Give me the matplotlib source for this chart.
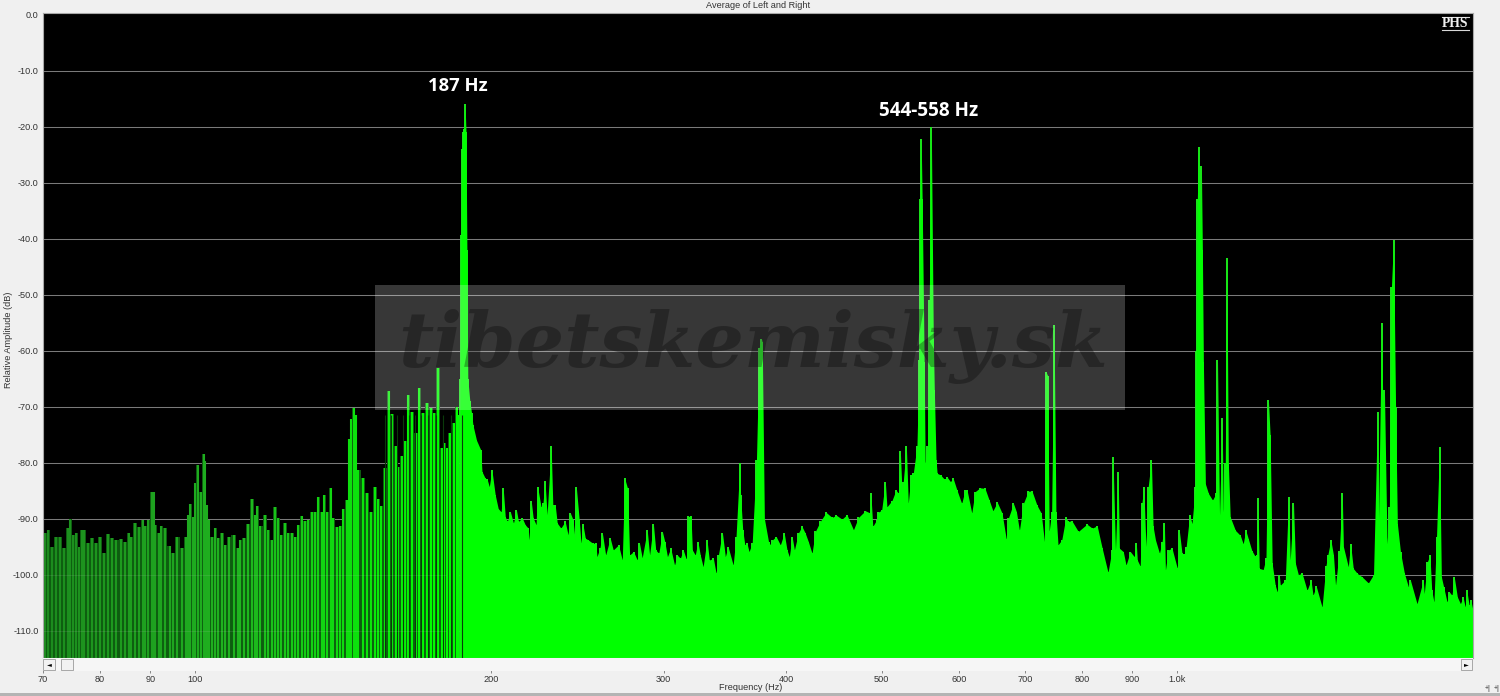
#coding=utf-8
import numpy as np
from matplotlib import pyplot as plt
from matplotlib.colors import LinearSegmentedColormap
from matplotlib.lines import Line2D
from matplotlib.patches import Rectangle

# separate FFT bars below the main peak
low_freq = [70.3, 70.9, 71.5, 72.2, 72.9, 73.6, 74.2, 74.6, 75.1, 75.7, 76.1, 76.7, 77.1, 77.8, 78.5, 79.3,
            80.0, 80.7, 81.6, 82.3, 83.1, 84.1, 84.9, 85.6, 86.1, 86.8, 87.6, 88.4, 88.9, 89.6, 90.3, 90.7,
            91.1, 91.8, 92.3, 93.2, 94.2, 94.9, 95.9, 96.9, 97.8, 98.4, 98.9, 99.5, 100.0, 100.6, 101.3, 102.0,
            102.4, 102.8, 103.3, 104.0, 104.8, 105.6, 106.5, 107.3, 108.2, 109.5, 110.5, 111.2, 112.2, 113.3,
            114.3, 115.1, 115.6, 116.5, 117.9, 118.7, 119.7, 120.6, 121.5, 122.3, 123.5, 124.4, 125.6, 126.4,
            127.4, 128.4, 129.4, 130.3, 131.6, 132.5, 133.5, 134.7, 135.3, 136.2, 137.6, 138.2, 139.6, 140.5,
            141.5, 142.8, 143.4, 144.0, 145.2, 145.9, 146.6, 148.2, 149.6, 151.0, 152.5, 153.6, 154.7, 156.1,
            157.4, 158.7, 160.1, 160.9, 162.5, 163.5, 164.8, 166.4, 167.9, 169.1, 170.7, 172.2, 174.0, 175.2,
            176.7, 178.4, 179.3, 180.4, 181.8, 183.5, 184.6, 185.1]
low_db = [-92.6, -92.0, -95.0, -93.2, -93.2, -95.3, -91.7, -90.1, -92.9, -92.5, -95.0, -92.1, -92.0, -94.4, -93.5, -94.3,
          -93.2, -96.2, -92.7, -93.5, -93.8, -93.7, -94.1, -92.6, -93.2, -90.8, -91.5, -90.2, -91.3, -90.2, -85.3, -85.3,
          -91.1, -92.6, -91.3, -91.6, -94.9, -96.2, -93.2, -95.3, -93.2, -89.3, -87.4, -89.8, -83.6, -80.4, -85.2, -78.5,
          -79.8, -87.6, -90.2, -93.2, -91.6, -93.5, -92.6, -94.7, -93.2, -92.9, -95.3, -93.8, -93.4, -90.9,
          -86.5, -89.3, -87.7, -91.4, -89.3, -92.0, -93.8, -87.9, -89.9, -92.9, -90.7, -92.6, -92.6, -93.2,
          -91.1, -89.5, -90.4, -90.2, -88.8, -88.8, -86.1, -88.8, -85.7, -88.8, -84.6, -89.9, -91.5, -91.4,
          -88.2, -86.7, -75.7, -72.2, -70.3, -71.5, -81.3, -82.8, -85.5, -88.8, -84.3, -86.5, -87.7, -81.0,
          -67.2, -71.3, -77.1, -80.7, -78.9, -76.2, -67.9, -70.9, -74.8, -66.7, -71.2, -69.3, -70.3, -71.2,
          -63.1, -77.4, -76.5, -77.4, -74.8, -73.0, -70.0, -71.5]
gap_freq = [156.1, 158.4, 160.5, 162.9, 165.2, 167.6, 170.0, 172.7, 175.7, 178.8, 182.1, 187.0]

# solid part of the spectrum from the main peak upward
high_freq = [186.1, 186.5, 187.0, 187.4, 187.8, 188.3, 188.7, 189.1, 189.5, 190.4, 191.2, 191.8, 193.4, 195.3, 195.9, 197.4,
             198.3, 199.3, 200.5, 202.1, 203.5, 204.9, 205.9, 206.9, 207.9, 209.4, 210.9, 212.4, 213.4, 215.3, 216.8, 218.3,
             218.9, 219.9, 220.9, 222.4, 223.2, 225.0, 226.0, 227.1, 228.2, 230.4, 231.3, 232.6, 233.7, 235.7, 238.1, 239.7,
             241.0, 242.5, 243.7, 244.4, 246.0, 247.1, 248.2, 249.6, 251.3, 254.0, 255.9, 256.5, 258.3, 259.8, 261.8, 264.6,
             266.5, 269.8, 272.2, 273.7, 275.6, 276.9, 279.5, 281.9, 283.4, 285.2, 288.6, 290.2, 292.8, 294.4, 296.5, 299.1,
             300.7, 302.6, 304.9, 307.7, 309.6, 311.9, 314.0, 316.3, 317.8, 319.8, 320.8, 323.0, 325.0, 326.8, 329.0, 332.0,
             333.8, 337.0, 339.2, 341.0, 344.2, 346.6, 348.8, 353.0, 355.4, 358.6, 359.2, 361.0, 362.8, 364.6, 366.4, 369.1,
             372.8, 375.2, 377.2, 377.9, 379.8, 383.5, 385.3, 387.1, 390.4, 394.3, 397.9, 400.5, 402.7, 405.3, 407.5, 411.3,
             414.8, 418.0, 421.0, 424.7, 428.0, 433.0, 439.0, 445.1, 449.6, 455.6, 460.9, 468.0, 473.5, 481.2, 486.7, 487.5,
             489.7, 494.2, 495.4, 500.0, 504.3, 506.2, 512.2, 517.1, 520.0, 522.4, 524.4, 526.0, 529.8, 532.2, 535.6, 538.5,
             543.1, 546.0, 547.3, 548.5, 549.8, 552.4, 553.7, 556.7, 559.0, 561.7, 564.4, 565.7, 568.0, 569.4, 574.0, 579.4,
             583.0, 587.5, 591.2, 596.5, 603.2, 608.0, 610.8, 617.6, 622.4, 629.7, 637.0, 643.3, 649.0, 655.7, 663.0, 669.7,
             673.0, 681.0, 685.8, 690.6, 697.0, 705.2, 711.3, 719.6, 726.7, 732.3, 735.0, 738.0, 740.5, 744.8, 749.0, 752.3,
             756.0, 762.7, 770.0, 774.0, 781.0, 792.8, 809.0, 819.0, 828.7, 838.5, 850.0, 858.0, 860.0, 865.0, 870.5, 873.0,
             881.0, 886.7, 895.7, 904.0, 908.3, 910.4, 916.7, 920.3, 924.5, 929.0, 934.0, 941.0, 944.8, 950.0, 959.0, 965.0,
             970.0, 972.5, 979.0, 987.6, 1000, 1004.6, 1011, 1016.5, 1021, 1029.4, 1035, 1043, 1045.6, 1048, 1051, 1053,
             1055.6, 1058, 1060.5, 1063, 1068, 1075.6, 1086, 1095, 1098.7, 1104, 1110.7, 1114, 1119, 1123, 1127, 1132,
             1145.8, 1159, 1167, 1174, 1181, 1190.8, 1199.8, 1205, 1208, 1211.8, 1223, 1231, 1238, 1243, 1249, 1258,
             1264, 1270, 1273, 1288, 1298, 1303, 1313, 1319, 1328, 1340, 1355.5, 1368, 1374.6, 1385, 1404, 1416.6,
             1423, 1433, 1442, 1449, 1462, 1472, 1476, 1493, 1501, 1510.6, 1525, 1542, 1565, 1584, 1599, 1602.6,
             1614, 1619, 1625, 1635, 1644, 1652, 1660, 1668, 1675, 1687.4, 1703, 1719, 1727, 1754, 1780, 1784,
             1797.4, 1808, 1815.6, 1825, 1836, 1849, 1857, 1867, 1882, 1892, 1904, 1914, 1928, 1942, 1954, 1964,
             1971, 1982, 1990, 2000]
high_db = [-65.0, -39.3, -24.0, -21.0, -20.5, -16.0, -21.0, -42.0, -65.0, -69.0, -71.2, -73.3, -76.0, -77.7, -81.6, -82.8,
           -83.0, -84.3, -81.3, -85.8, -88.2, -88.8, -84.6, -89.7, -90.5, -88.8, -90.8, -88.5, -90.5, -89.9, -91.1, -91.7,
           -93.8, -86.9, -89.9, -91.1, -84.3, -87.9, -87.3, -83.3, -89.3, -77.1, -87.6, -87.6, -90.8, -91.7, -90.5, -92.9,
           -89.0, -90.2, -93.8, -84.4, -90.0, -94.4, -91.0, -93.5, -93.8, -94.4, -94.4, -96.8, -95.3, -92.6, -96.5, -93.5,
           -95.6, -94.7, -97.4, -82.8, -84.6, -96.5, -95.9, -97.4, -94.4, -97.0, -92.1, -96.5, -91.0, -95.6, -96.2, -92.4,
           -94.1, -96.8, -95.3, -98.3, -96.5, -97.1, -95.6, -97.3, -89.6, -89.6, -95.6, -96.5, -94.1, -96.5, -98.6, -93.8,
           -97.4, -97.1, -99.8, -96.5, -92.5, -96.8, -95.0, -98.3, -93.2, -80.0, -85.8, -92.0, -94.7, -94.4, -95.9, -94.4,
           -79.6, -59.5, -57.9, -58.5, -90.0, -94.1, -94.7, -93.8, -93.2, -94.7, -92.6, -95.6, -96.8, -93.2, -95.6, -92.6,
           -91.4, -92.6, -94.1, -96.2, -92.3, -90.5, -88.9, -89.8, -89.4, -90.1, -89.3, -92.0, -89.8, -88.6, -89.0, -85.5,
           -91.4, -90.2, -88.9, -88.5, -83.4, -87.9, -86.8, -84.9, -85.5, -78.0, -85.2, -83.4, -77.0, -87.3, -82.2, -81.9,
           -77.1, -61.7, -33.0, -22.2, -33.0, -62.0, -80.1, -77.0, -51.0, -20.0, -58.0, -67.0, -79.5, -81.9, -82.2, -83.0,
           -82.6, -83.4, -82.8, -84.9, -87.3, -84.9, -84.9, -89.0, -85.2, -84.5, -84.6, -86.7, -88.6, -87.1, -89.0, -93.7,
           -89.9, -87.3, -88.8, -92.1, -87.3, -85.1, -85.1, -87.6, -89.0, -94.1, -63.8, -64.5, -92.3, -88.8, -55.4, -88.8,
           -94.7, -93.8, -89.8, -90.5, -90.4, -92.3, -91.0, -91.7, -91.3, -95.3, -99.6, -95.6, -79.0, -95.6, -81.7, -95.3,
           -95.9, -98.3, -95.9, -96.8, -94.4, -97.4, -98.5, -87.3, -84.3, -95.0, -84.3, -79.5, -91.4, -93.8, -96.2, -94.1,
           -90.7, -99.2, -95.6, -95.3, -98.9, -92.1, -96.2, -96.3, -95.0, -89.3, -90.9, -84.3, -60.0, -33.0, -23.7, -33.0,
           -40.0, -27.0, -42.0, -62.0, -83.8, -85.5, -86.7, -85.5, -61.7, -89.4, -72.0, -88.8, -80.0, -43.5, -80.0, -89.7,
           -92.1, -93.0, -94.5, -92.1, -93.6, -95.7, -96.7, -96.5, -86.3, -98.9, -99.1, -97.1, -68.8, -75.0, -98.0, -101.9,
           -103.1, -100.0, -101.9, -101.0, -86.1, -97.4, -87.3, -98.0, -100.0, -99.8, -102.8, -101.0, -103.7, -102.1, -105.8, -98.5,
           -96.5, -93.8, -96.5, -101.9, -95.7, -85.5, -95.0, -98.6, -94.5, -98.9, -99.8, -100.4, -101.5, -100.0, -71.0, -90.0,
           -55.0, -70.0, -67.0, -94.5, -88.0, -48.6, -40.2, -70.0, -90.9, -96.0, -99.8, -102.2, -101.0, -105.2, -101.0, -103.4,
           -97.7, -96.5, -102.8, -104.9, -93.3, -77.2, -100.4, -102.2, -104.9, -103.1, -103.7, -100.4, -104.0, -105.2, -104.0, -105.8,
           -102.8, -105.5, -104.6, -106.4]

x_ticks = [70, 80, 90, 100, 200, 300, 400, 500, 600, 700, 800, 900, 1000]
x_tick_labels = ['70', '80', '90', '100', '200', '300', '400', '500', '600', '700', '800', '900', '1.0k']
y_ticks = [0, -10, -20, -30, -40, -50, -60, -70, -80, -90, -100, -110]

W, H = 1500.0, 696.0
bottom_db = -114.9
plt.rcParams['font.family'] = ['Liberation Sans', 'DejaVu Sans']

fig = plt.figure(figsize=(15, 6.96), dpi=100, facecolor='#f0f0f0')
ax = fig.add_axes([43 / W, 1 - 658 / H, 1430 / W, 645 / H], facecolor='black')
ax.set_xscale('log')
ax.set_xlim(70, 2000)
ax.set_ylim(bottom_db, 0.3)

for y in y_ticks[1:]:
    ax.axhline(y, color='#7a7a7a', lw=0.75, zorder=1)

# low bars go from dark to bright green with frequency
greens = LinearSegmentedColormap.from_list('greens', ['#1c8a1e', '#1fb41f', '#00ff00'])
shade = (np.log10(low_freq) - np.log10(70)) / (np.log10(175) - np.log10(70))
ax.fill_between(low_freq, bottom_db, low_db, step='mid', color='#0e5c10', lw=0, zorder=1.5)
ax.vlines(low_freq, bottom_db, low_db, colors=greens(np.clip(shade, 0, 1)), lw=1.5, zorder=2)
ax.vlines(high_freq, bottom_db, high_db, colors='#1cf01c', lw=1.35, zorder=1.9)
ax.fill_between(high_freq, bottom_db, high_db, color='#00ff00', lw=0, zorder=2)
ax.vlines(gap_freq, bottom_db, low_db[-1], colors='#0a3a0a', lw=0.8, zorder=3)
ax.hlines(y_ticks[-2:], 70, 180, colors='#d0d0d0', lw=0.75, alpha=0.12, zorder=3)

ax.set_xticks(x_ticks)
ax.set_xticklabels(x_tick_labels)
ax.minorticks_off()
ax.set_yticks(y_ticks)
ax.set_yticklabels(['%.1f' % v for v in y_ticks])
ax.tick_params(axis='x', length=10.8, width=0.6, color='#777777', labelsize=6.6, labelcolor='#333333', pad=1.5)
ax.tick_params(axis='y', length=0, labelsize=6.6, labelcolor='#333333', pad=3)
for s in ax.spines.values():
    s.set_color('#a8a8a8')
    s.set_linewidth(0.8)

fig.text(758 / W, 1 - 5.5 / H, 'Average of Left and Right', fontsize=6.6, color='#333333', ha='center', va='center')
fig.text(751 / W, 1 - 687 / H, 'Frequency (Hz)', fontsize=6.6, color='#333333', ha='center', va='center')
fig.text(9 / W, 1 - 340 / H, 'Relative Amplitude (dB)', fontsize=6.6, color='#333333', ha='center', va='center', rotation=90)

# peak labels
fig.text(458 / W, 1 - 86 / H, '187 Hz', fontsize=13.3, fontweight='bold', color='white', family='Open Sans',
         ha='center', va='center', zorder=8)
fig.text(929 / W, 1 - 111 / H, '544-558 Hz', fontsize=13.6, fontweight='bold', color='white', family='Open Sans',
         ha='center', va='center', zorder=8)

# PHS mark
fig.text(1455.5 / W, 1 - 23.5 / H, 'PHS', fontsize=9.8, fontweight='bold', color='#f0f0f0', family='Liberation Serif',
         ha='center', va='center', zorder=8)
for yy in [17, 29.5]:
    fig.add_artist(Line2D([1442 / W, 1469 / W], [1 - yy / H, 1 - yy / H], color='#d8d8d8', lw=0.8, zorder=8))

# watermark
fig.add_artist(Rectangle((375 / W, 1 - 410 / H), 750 / W, 125 / H, transform=fig.transFigure,
                         facecolor='white', alpha=0.22, lw=0, zorder=6))
fig.text(753 / W, 1 - 346 / H, 'tibetskemisky.sk', fontsize=55, fontstyle='italic', fontweight='bold', color='black',
         alpha=0.3, family='DejaVu Serif', ha='center', va='center', zorder=7)

# scrollbar under the plot
fig.add_artist(Rectangle((43 / W, 1 - 671 / H), 1430 / W, 13 / H, transform=fig.transFigure,
                         facecolor='#f6f6f6', lw=0, zorder=5))
for x0, x1 in [(43, 55), (61, 73), (1461, 1472)]:
    fig.add_artist(Rectangle((x0 / W, 1 - 670 / H), (x1 - x0) / W, 11 / H, transform=fig.transFigure,
                             facecolor='#f2f2f2', edgecolor='#8a8a8a', lw=0.5, zorder=6))
fig.text(49 / W, 1 - 664.5 / H, '\u25c4', fontsize=4.5, color='black', ha='center', va='center', zorder=7,
         family='DejaVu Sans')
fig.text(1466.5 / W, 1 - 664.5 / H, '\u25ba', fontsize=4.5, color='black', ha='center', va='center', zorder=7,
         family='DejaVu Sans')
fig.text(1488 / W, 1 - 688 / H, '+|', fontsize=5, color='#333333', ha='center', va='center')
fig.text(1497 / W, 1 - 688 / H, '+|', fontsize=5, color='#333333', ha='center', va='center')
fig.add_artist(Rectangle((0, 0), 1, 3 / H, transform=fig.transFigure, facecolor='#b4b4b4', lw=0, zorder=5))

fig.savefig('out.png', dpi=100, facecolor=fig.get_facecolor())
